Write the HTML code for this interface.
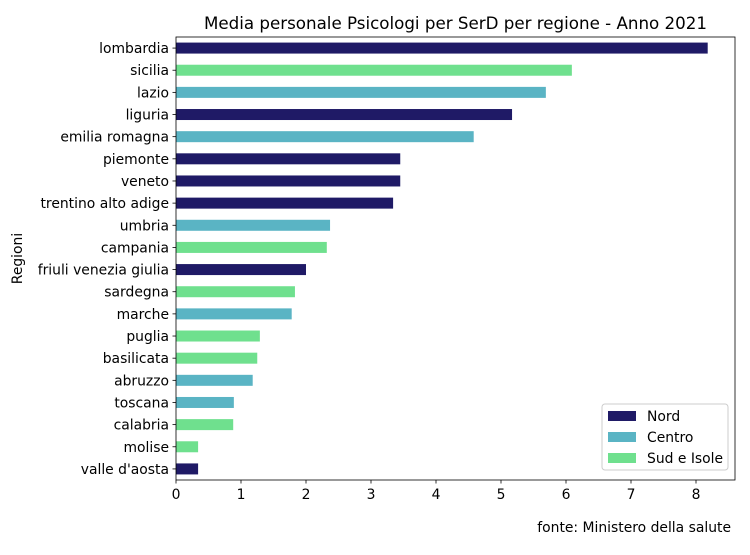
<!DOCTYPE html>
<html><head><meta charset="utf-8"><style>
body{margin:0;background:#fff;font-family:"Liberation Sans","DejaVu Sans",sans-serif;}
</style></head><body>
<svg id="chart" width="750" height="550" xmlns="http://www.w3.org/2000/svg" font-family="DejaVu Sans, Liberation Sans, sans-serif"></svg>
<script>
const categories=["lombardia","sicilia","lazio","liguria","emilia romagna","piemonte","veneto","trentino alto adige","umbria","campania","friuli venezia giulia","sardegna","marche","puglia","basilicata","abruzzo","toscana","calabria","molise","valle d'aosta"];
const values=[8.18,6.09,5.69,5.17,4.58,3.45,3.45,3.34,2.37,2.32,2.0,1.83,1.78,1.29,1.25,1.18,0.89,0.88,0.34,0.34];
const areas=["Nord","Sud e Isole","Centro","Nord","Centro","Nord","Nord","Nord","Centro","Sud e Isole","Nord","Sud e Isole","Centro","Sud e Isole","Sud e Isole","Centro","Centro","Sud e Isole","Sud e Isole","Nord"];
const xTicks=[0,1,2,3,4,5,6,7,8];
const legendNames=["Nord","Centro","Sud e Isole"];
const colors={"Nord":"#1f1a66","Centro":"#5ab4c4","Sud e Isole":"#6fe08e"};
const svg=document.getElementById('chart');
const NS="http://www.w3.org/2000/svg";
const L=176,R=735,T=37,B=480,xMax=8.6,FS=13.9;
const x=v=>L+v/xMax*(R-L);
const step=(B-T)/categories.length;
const y=i=>T+step*(i+0.5);
function mk(t,a,txt){const e=document.createElementNS(NS,t);for(const k in a)e.setAttribute(k,a[k]);if(txt!==undefined)e.textContent=txt;svg.appendChild(e);return e;}
categories.forEach((c,i)=>{
 const r=mk('rect',{x:L,y:y(i)-5.5,width:x(values[i])-L,height:11,fill:colors[areas[i]]});
 
 
 const tk=mk('line',{x1:L-3.5,x2:L,y1:y(i),y2:y(i),stroke:'#000','stroke-width':0.8});
 
 
 const t=mk('text',{x:L-7,y:y(i)+5,'text-anchor':'end','font-size':FS},c);
 
 
});
xTicks.forEach(v=>{
 const tk=mk('line',{x1:x(v),x2:x(v),y1:B,y2:B+3.5,stroke:'#000','stroke-width':0.8});
 
 
 const t=mk('text',{x:x(v),y:B+19,'text-anchor':'middle','font-size':FS},String(v));
 
 
});
const fr=mk('rect',{x:L,y:T,width:R-L,height:B-T,fill:'none',stroke:'#000','stroke-width':0.8});


const ti=mk('text',{x:(L+R)/2,y:29,'text-anchor':'middle','font-size':16.7},'Media personale Psicologi per SerD per regione - Anno 2021');


const yt=mk('text',{x:22,y:(T+B)/2,'text-anchor':'middle','font-size':FS,transform:`rotate(-90 22 ${(T+B)/2})`},'Regioni');


const src=mk('text',{x:731,y:532,'text-anchor':'end','font-size':FS},'fonte: Ministero della salute');


const lg=mk('rect',{x:602,y:404,width:126,height:66,rx:3,fill:'#fff','fill-opacity':0.8,stroke:'#ccc'});


legendNames.forEach((n,i)=>{
 const s=mk('rect',{x:608,y:411+i*21,width:28,height:10,fill:colors[n]});
 
 
 const t=mk('text',{x:647,y:421+i*21,'font-size':FS},n);
 
 
});
</script>
</body></html>
